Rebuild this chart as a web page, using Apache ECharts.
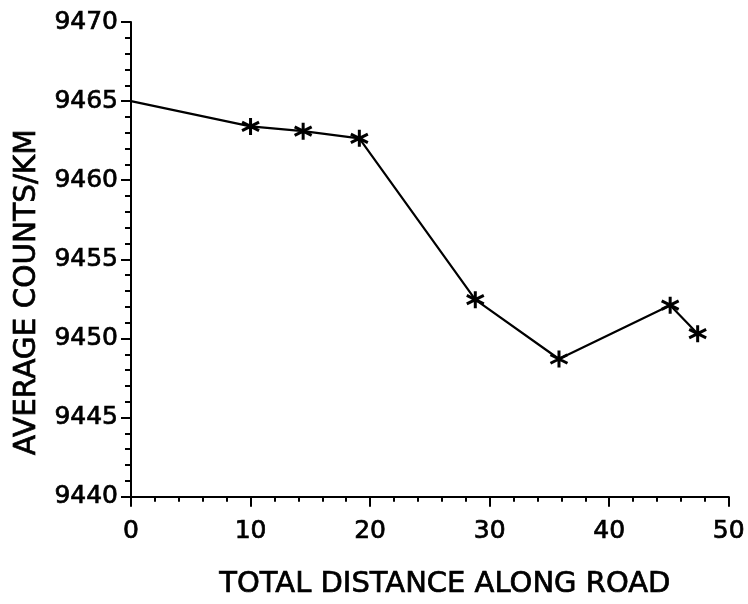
<!DOCTYPE html>
<html>
<head>
<meta charset="utf-8">
<script src="https://cdn.jsdelivr.net/npm/echarts@6/dist/echarts.min.js"></script>
<style>html,body{margin:0;padding:0;background:#fff;}#c{width:748px;height:604px;}</style>
</head>
<body>
<div id="c"></div>
<script>
var distance = [0, 10, 14.4, 19.1, 28.8, 35.8, 45.1, 47.4];
var counts = [9465, 9463.4, 9463.1, 9462.65, 9452.45, 9448.7, 9452.1, 9450.3];
var showStar = [false, true, true, true, true, true, true, true];
var xTitle = 'TOTAL DISTANCE ALONG ROAD';
var yTitle = 'AVERAGE COUNTS/KM';

var star = 'path://M0,-10L0,10M-8.66,-5L8.66,5M-8.66,5L8.66,-5';
var data = distance.map(function (d, i) {
  return { value: [d, counts[i]], symbol: showStar[i] ? star : 'none' };
});

var font = 'DejaVu Sans';
var heavy = { textBorderColor: '#000', textBorderWidth: 0.7 };
var chart = echarts.init(document.getElementById('c'), null, { renderer: 'canvas' });
chart.setOption({
  animation: false,
  backgroundColor: '#fff',
  grid: { left: 131, right: 17, top: 22, bottom: 101, containLabel: false },
  xAxis: {
    type: 'value', min: 0, max: 50, interval: 10,
    name: xTitle, nameLocation: 'middle', nameGap: 73,
    nameTextStyle: Object.assign({ fontFamily: font, fontSize: 29, color: '#000', padding: [0, 0, 0, 30] }, heavy),
    axisLine: { show: true, onZero: false, lineStyle: { color: '#000', width: 2 } },
    axisTick: { show: true, inside: false, length: 10, lineStyle: { color: '#000', width: 2 } },
    minorTick: { show: true, splitNumber: 5, length: 5, lineStyle: { color: '#000', width: 2 } },
    axisLabel: Object.assign({ fontFamily: font, fontSize: 25, color: '#000', margin: 22 }, heavy),
    splitLine: { show: false }
  },
  yAxis: {
    type: 'value', min: 9440, max: 9470, interval: 5,
    name: yTitle, nameLocation: 'middle', nameGap: 88, nameRotate: 90,
    nameTextStyle: Object.assign({ fontFamily: font, fontSize: 29.5, color: '#000', padding: [0, 66, 0, 0] }, heavy),
    axisLine: { show: true, lineStyle: { color: '#000', width: 2 } },
    axisTick: { show: true, inside: false, length: 10, lineStyle: { color: '#000', width: 2 } },
    minorTick: { show: true, splitNumber: 5, length: 6, lineStyle: { color: '#000', width: 2 } },
    axisLabel: Object.assign({ fontFamily: font, fontSize: 25, color: '#000', margin: 13,
      formatter: function (v) { return String(v); } }, heavy),
    splitLine: { show: false }
  },
  series: [{
    type: 'line',
    data: data,
    symbolSize: 17,
    showAllSymbol: true,
    lineStyle: { color: '#000', width: 2.2 },
    itemStyle: { color: 'none', borderColor: '#000', borderWidth: 3 }
  }]
});
</script>
</body>
</html>
